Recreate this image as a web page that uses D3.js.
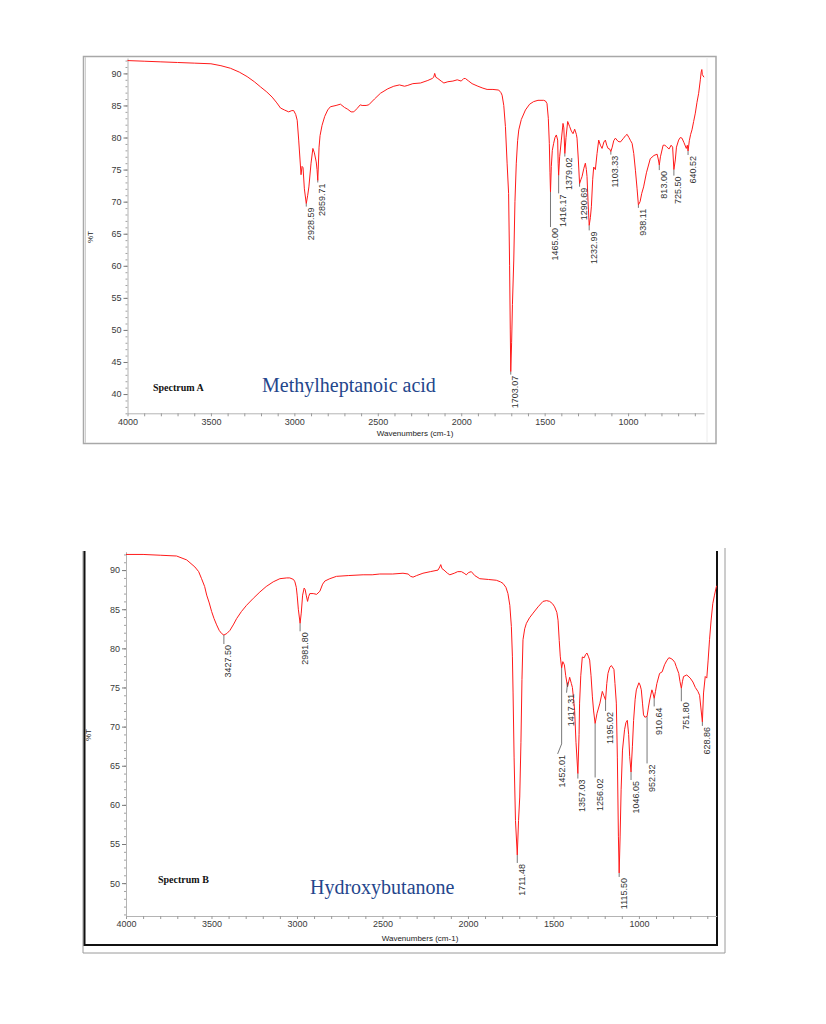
<!DOCTYPE html>
<html><head><meta charset="utf-8">
<script src="https://cdn.jsdelivr.net/npm/d3@7"></script>
<style>
html,body{margin:0;padding:0;background:#fff;}
svg{display:block;}
</style></head>
<body>
<svg id="chart" width="826" height="1024"></svg>
<script>
// ---------------- DATA ----------------
// Spectrum A: Methylheptanoic acid  [wavenumber cm-1, %T]
const spectrumA = [
[4000,92.0],[3900,91.9],[3800,91.8],[3700,91.7],[3600,91.6],[3500,91.5],[3440,91.2],[3383,90.8],[3330,90.2],
[3283,89.5],[3240,88.7],[3203,87.9],[3165,87.1],[3133,86.3],[3105,85.4],[3083,84.6],[3060,84.3],[3034,84.0],
[3015,84.2],[3004,84.2],[2992,83.6],[2983,82.7],[2974,79.6],[2966,76.5],[2960,74.2],[2954,75.5],[2948,75.3],
[2940,72.0],[2928.59,69.7],[2920,71.0],[2913,72.3],[2900,76.0],[2889,78.3],[2880,77.6],[2869,76.2],[2864,75.0],
[2859.71,73.3],[2852,78.5],[2846,80.3],[2834,81.9],[2818,83.3],[2800,84.3],[2784,84.8],[2750,85.0],[2724,85.2],
[2700,84.7],[2680,84.4],[2660,84.0],[2644,84.0],[2625,84.5],[2605,85.1],[2594,85.0],[2570,85.0],[2554,85.1],
[2520,86.0],[2484,86.9],[2440,87.6],[2404,88.0],[2370,88.2],[2340,88.0],[2324,88.1],[2290,88.4],[2244,88.5],
[2200,88.9],[2174,89.2],[2165,89.4],[2159,90.0],[2152,89.4],[2140,89.2],[2120,88.8],[2104,88.5],[2080,88.7],
[2050,88.8],[2024,89.0],[2000,88.8],[1985,89.2],[1975,89.2],[1955,88.8],[1935,88.4],[1900,88.0],[1870,87.7],
[1845,87.5],[1810,87.5],[1775,87.4],[1762,87.0],[1755,86.6],[1745,85.0],[1735,81.7],[1725,76.0],[1716,71.3],
[1710,60.0],[1706,50.0],[1703.07,43.5],[1698,48.0],[1693,54.0],[1685,60.9],[1678,70.0],[1670,76.0],[1662,79.5],
[1655,81.2],[1640,82.8],[1615,84.3],[1590,85.2],[1566,85.6],[1540,85.8],[1506,85.8],[1495,85.7],[1486,85.3],
[1478,83.0],[1472,79.1],[1468,74.5],[1465.00,71.5],[1460,75.5],[1454,78.0],[1446,79.1],[1438,80.0],[1430,80.4],
[1422,79.6],[1419,76.0],[1416.17,74.1],[1410,77.0],[1400,79.6],[1390,82.2],[1385,81.5],[1379.02,77.5],[1372,80.0],
[1362,82.5],[1350,81.7],[1340,81.0],[1330,80.6],[1320,81.3],[1310,80.5],[1306,79.9],[1298,76.5],[1290.69,72.8],
[1282,73.5],[1276,73.9],[1265,75.2],[1256,76.0],[1250,75.0],[1246,73.9],[1240,70.0],[1232.99,66.3],[1226,67.5],
[1220,69.2],[1212,73.5],[1206,75.4],[1196,75.0],[1186,77.5],[1176,79.6],[1166,78.8],[1156,78.3],[1145,79.3],
[1136,79.6],[1128,78.8],[1120,78.3],[1110,78.2],[1103.33,77.8],[1095,78.5],[1086,79.5],[1076,79.9],[1060,79.4],
[1046,79.3],[1030,79.8],[1015,80.3],[1006,80.5],[995,80.0],[985,79.5],[976,79.1],[966,77.5],[956,74.9],
[946,72.0],[938.11,69.5],[928,70.0],[918,71.3],[907,72.3],[890,74.5],[867,76.7],[845,77.2],[826,77.4],
[818,76.5],[813.00,75.7],[806,77.0],[790,78.8],[780,78.8],[770,78.6],[755,78.2],[742,78.8],[733,78.5],
[725.50,75.0],[717,76.5],[710,78.5],[697,79.6],[687,80.0],[677,79.9],[665,79.2],[651,78.3],[645,78.8],
[640.52,77.9],[633,79.5],[625,80.5],[617,81.2],[607,82.5],[597,83.8],[587,85.5],[577,86.9],[567,89.0],
[562,90.2],[558,90.6],[555,89.8],[550,89.6],[545,89.4]
];

// Spectrum B: Hydroxybutanone  [wavenumber cm-1, %T]
const spectrumB = [
[4000,92.0],[3900,92.0],[3800,91.9],[3704,91.8],[3645,91.3],[3597,90.4],[3575,89.8],[3558,88.9],[3540,87.9],
[3528,86.8],[3513,85.8],[3499,84.7],[3485,83.8],[3470,83.0],[3455,82.3],[3441,81.9],[3427.50,81.7],[3410,81.9],
[3392,82.3],[3370,83.1],[3353,83.8],[3325,84.7],[3295,85.5],[3255,86.4],[3217,87.2],[3180,87.9],[3139,88.5],
[3100,88.9],[3060,89.0],[3042,89.0],[3020,88.8],[3012,88.5],[3004,87.8],[2999,86.8],[2992,85.0],[2981.80,83.2],
[2975,84.5],[2967,86.8],[2958,87.7],[2952,87.5],[2946,86.8],[2938,86.0],[2932,86.6],[2925,87.0],[2905,87.0],
[2885,86.9],[2866,87.3],[2850,88.2],[2837,88.6],[2808,88.9],[2769,89.2],[2700,89.3],[2613,89.4],[2560,89.4],
[2516,89.5],[2440,89.5],[2380,89.6],[2350,89.5],[2335,89.2],[2321,89.1],[2300,89.3],[2263,89.6],[2220,89.8],
[2175,90.0],[2165,90.4],[2159,90.7],[2152,90.2],[2140,90.0],[2120,89.6],[2106,89.4],[2080,89.6],[2060,89.8],
[2038,89.8],[2022,89.6],[2010,89.4],[1995,89.7],[1980,89.8],[1960,89.3],[1931,88.9],[1880,88.8],[1834,88.7],
[1810,88.5],[1795,88.3],[1778,87.8],[1766,87.0],[1755,85.5],[1746,82.8],[1740,79.0],[1736,74.3],[1730,66.0],
[1722,58.0],[1711.48,53.6],[1704,58.0],[1697,61.0],[1690,68.0],[1684,76.0],[1678,81.1],[1668,82.5],[1658,83.2],
[1640,83.9],[1619,84.5],[1590,85.3],[1561,86.0],[1540,86.1],[1522,86.0],[1505,85.7],[1493,85.3],[1480,84.6],
[1473,83.6],[1466,81.0],[1460,79.0],[1452.01,77.5],[1445,78.3],[1436,77.9],[1428,76.5],[1417.31,75.1],[1405,76.3],
[1395,75.5],[1389,75.0],[1382,73.5],[1376,72.1],[1368,68.0],[1357.03,64.0],[1350,69.0],[1347,73.0],[1340,76.5],
[1331,78.9],[1320,78.8],[1312,79.2],[1304,79.4],[1296,79.0],[1288,78.5],[1280,76.5],[1272,73.8],[1265,72.0],
[1256.02,70.4],[1245,71.7],[1228,73.0],[1214,74.5],[1206,74.0],[1195.02,73.4],[1188,75.5],[1181,76.8],[1170,77.6],
[1161,77.8],[1146,77.3],[1140,75.5],[1132,73.0],[1126,66.0],[1120,56.0],[1115.50,51.3],[1110,55.9],[1104,62.0],
[1096,67.0],[1084,69.6],[1076,70.5],[1068,70.8],[1060,69.0],[1054,66.2],[1046.05,64.2],[1038,67.5],[1031,70.8],
[1022,73.5],[1015,74.7],[1000,75.6],[993,75.3],[986,74.7],[979,73.0],[973,71.5],[965,71.2],[952.32,71.3],
[944,72.5],[937,73.4],[924,74.7],[918,74.3],[910.64,73.6],[903,74.5],[895,75.5],[879,76.8],[864,77.0],
[850,77.9],[838,78.4],[825,78.8],[812,78.7],[800,78.5],[790,78.2],[782,77.7],[767,76.8],[760,75.8],
[751.80,74.9],[745,75.8],[739,76.4],[720,76.6],[700,76.2],[684,75.7],[670,75.0],[655,74.5],[645,74.0],
[638,72.5],[628.86,70.6],[622,74.3],[612,76.4],[603,76.2],[595,78.5],[587,81.1],[578,83.5],[568,85.7],
[558,86.8],[549,87.7],[545,88.0]
];

// Labelled peaks [wavenumber, %T at peak]
const peaksA = [[2928.59,69.7],[2859.71,73.3],[1703.07,43.5],[1465.00,71.5],[1416.17,74.1],[1379.02,77.5],
  [1290.69,72.8],[1232.99,66.3],[1103.33,77.8],[938.11,69.5],[813.00,75.7],[725.50,75.0],[640.52,77.9]];
const peaksB = [[3427.50,81.7],[2981.80,83.2],[1711.48,53.6],[1452.01,77.5],[1417.31,75.1],[1357.03,64.0],
  [1256.02,70.4],[1195.02,73.4],[1115.50,51.3],[1046.05,64.2],[952.32,71.3],[910.64,73.6],[751.80,74.9],[628.86,70.6]];

const xTicks = [4000, 3500, 3000, 2500, 2000, 1500, 1000];
const yTicksA = [40, 45, 50, 55, 60, 65, 70, 75, 80, 85, 90];
const yTicksB = [50, 55, 60, 65, 70, 75, 80, 85, 90];
const wnRange = [4000, 545];
const titlesA = ["Spectrum A", "Methylheptanoic acid"];
const titlesB = ["Spectrum B", "Hydroxybutanone"];
const xLabel = "Wavenumbers (cm-1)";
const yLabel = "%T";

// ---------------- DRAWING ----------------
const svg = d3.select("#chart");
const FONT = "'Liberation Sans', Arial, sans-serif";
const SERIF = "'Liberation Serif', 'Times New Roman', serif";

// leader lengths (px) and label x-shifts per peak
const leadA = [3, 2, 3, 35, 18, 3, 3, 5, 3, 3, 5, 6, 4];
const leadB = [9, 8, 8, 86, 6, 5, 54, 11, 4, 8, 47, 8, 13, 4];
const shiftB = [0, 0, 0, -4, -1, 0, 0, 0, 0, 0, 0, 0, 0, 0];

function drawPanel(cfg) {
  const g = svg.append("g");
  const x = d3.scaleLinear().domain(wnRange).range(cfg.xr);
  const y = d3.scaleLinear().domain(cfg.yd).range(cfg.yr);

  // x axis
  const xa = g.append("g").attr("transform", `translate(0,${cfg.yr[0]})`)
    .call(d3.axisBottom(x).tickValues(d3.range(4000, 544, -100))
      .tickFormat(d => xTicks.includes(d) ? d : "").tickSize(3).tickPadding(2).tickSizeOuter(0));
  xa.select(".domain").attr("stroke", "#b4b4b4");
  xa.selectAll(".tick line").attr("stroke", "#9a9a9a");
  xa.selectAll("text").attr("font-family", FONT).attr("font-size", 9).attr("fill", "#3a3a3a");

  // y axis minor
  const yMinor = d3.range(Math.ceil(cfg.yd[0]), Math.floor(cfg.yd[1]) + 1);
  const ym = g.append("g").attr("transform", `translate(${cfg.xr[0]},0)`)
    .call(d3.axisLeft(y).tickValues(yMinor).tickFormat("").tickSize(2).tickSizeOuter(0));
  ym.select(".domain").remove();
  ym.selectAll(".tick line").attr("stroke", "#a0a0a0");
  // y axis major
  const ya = g.append("g").attr("transform", `translate(${cfg.xr[0]},0)`)
    .call(d3.axisLeft(y).tickValues(cfg.yTicks).tickSize(4).tickPadding(2).tickSizeOuter(0));
  ya.select(".domain").attr("stroke", "#b4b4b4");
  ya.selectAll(".tick line").attr("stroke", "#7a7a7a");
  ya.selectAll("text").attr("font-family", FONT).attr("font-size", 9).attr("fill", "#3a3a3a");

  // axis titles
  g.append("text").attr("x", cfg.xLab[0]).attr("y", cfg.xLab[1]).attr("text-anchor", "middle")
    .attr("font-family", FONT).attr("font-size", 8).attr("fill", "#222").text(xLabel);
  g.append("text").attr("transform", `translate(${cfg.yLab[0]},${cfg.yLab[1]}) rotate(-90)`)
    .attr("text-anchor", "middle").attr("font-family", FONT).attr("font-size", 8).attr("fill", "#222").text(yLabel);

  // spectrum line
  const line = d3.line().x(d => x(d[0])).y(d => y(d[1]));
  g.append("path").datum(cfg.data).attr("d", line).attr("fill", "none")
    .attr("stroke", "#ff1a1a").attr("stroke-width", 1).attr("stroke-linejoin", "round");

  // peak labels
  cfg.peaks.forEach((p, i) => {
    const px = x(p[0]), py = y(p[1]);
    const lead = cfg.lead[i];
    const sh = cfg.shift ? cfg.shift[i] : 0;
    const ly = py + lead;
    const path = sh === 0 ? `M${px},${py}V${ly}` : `M${px},${py}V${ly - 10}L${px + sh},${ly}`;
    g.append("path").attr("d", path).attr("stroke", "#555").attr("stroke-width", 0.8).attr("fill", "none");
    g.append("text").attr("transform", `translate(${px + sh + 0.5},${ly + 1}) rotate(-90)`)
      .attr("text-anchor", "end").attr("dy", "0.78em")
      .attr("font-family", FONT).attr("font-size", 9).attr("fill", "#333")
      .text(p[0].toFixed(2));
  });

  // titles
  g.append("text").attr("x", cfg.t1[0]).attr("y", cfg.t1[1]).attr("font-family", SERIF)
    .attr("font-weight", "bold").attr("font-size", 10).attr("fill", "#111").text(cfg.titles[0]);
  g.append("text").attr("x", cfg.t2[0]).attr("y", cfg.t2[1]).attr("font-family", SERIF)
    .attr("font-size", 20).attr("fill", "#24468c").text(cfg.titles[1]);
  return g;
}

// Frame of top panel
svg.append("rect").attr("x", 83.5).attr("y", 56.5).attr("width", 632.5).attr("height", 387)
  .attr("fill", "none").attr("stroke", "#a8a8a8").attr("stroke-width", 1.5);
svg.append("line").attr("x1", 85.5).attr("x2", 85.5).attr("y1", 57).attr("y2", 443)
  .attr("stroke", "#d0d0d0").attr("stroke-width", 1);
svg.append("line").attr("x1", 707).attr("x2", 707).attr("y1", 57).attr("y2", 443)
  .attr("stroke", "#ececec").attr("stroke-width", 1);

drawPanel({
  xr: [127.5, 704], yd: [37, 92.4], yr: [413.3, 58], yTicks: yTicksA,
  data: spectrumA, peaks: peaksA, lead: leadA,
  xLab: [415, 436], yLab: [93, 237],
  titles: titlesA, t1: [153, 391], t2: [262, 392]
});

// Frame of bottom panel
svg.append("path").attr("d", "M83,551V953H725V548").attr("fill", "none")
  .attr("stroke", "#9a9a9a").attr("stroke-width", 1);
svg.append("path").attr("d", "M84.5,551V945H717V551").attr("fill", "none")
  .attr("stroke", "#111").attr("stroke-width", 2);

drawPanel({
  xr: [126, 716.7], yd: [45.8, 92.35], yr: [916, 551.7], yTicks: yTicksB,
  data: spectrumB, peaks: peaksB, lead: leadB, shift: shiftB,
  xLab: [420, 941], yLab: [91, 735],
  titles: titlesB, t1: [158, 883], t2: [310, 894]
});
</script>
</body></html>
